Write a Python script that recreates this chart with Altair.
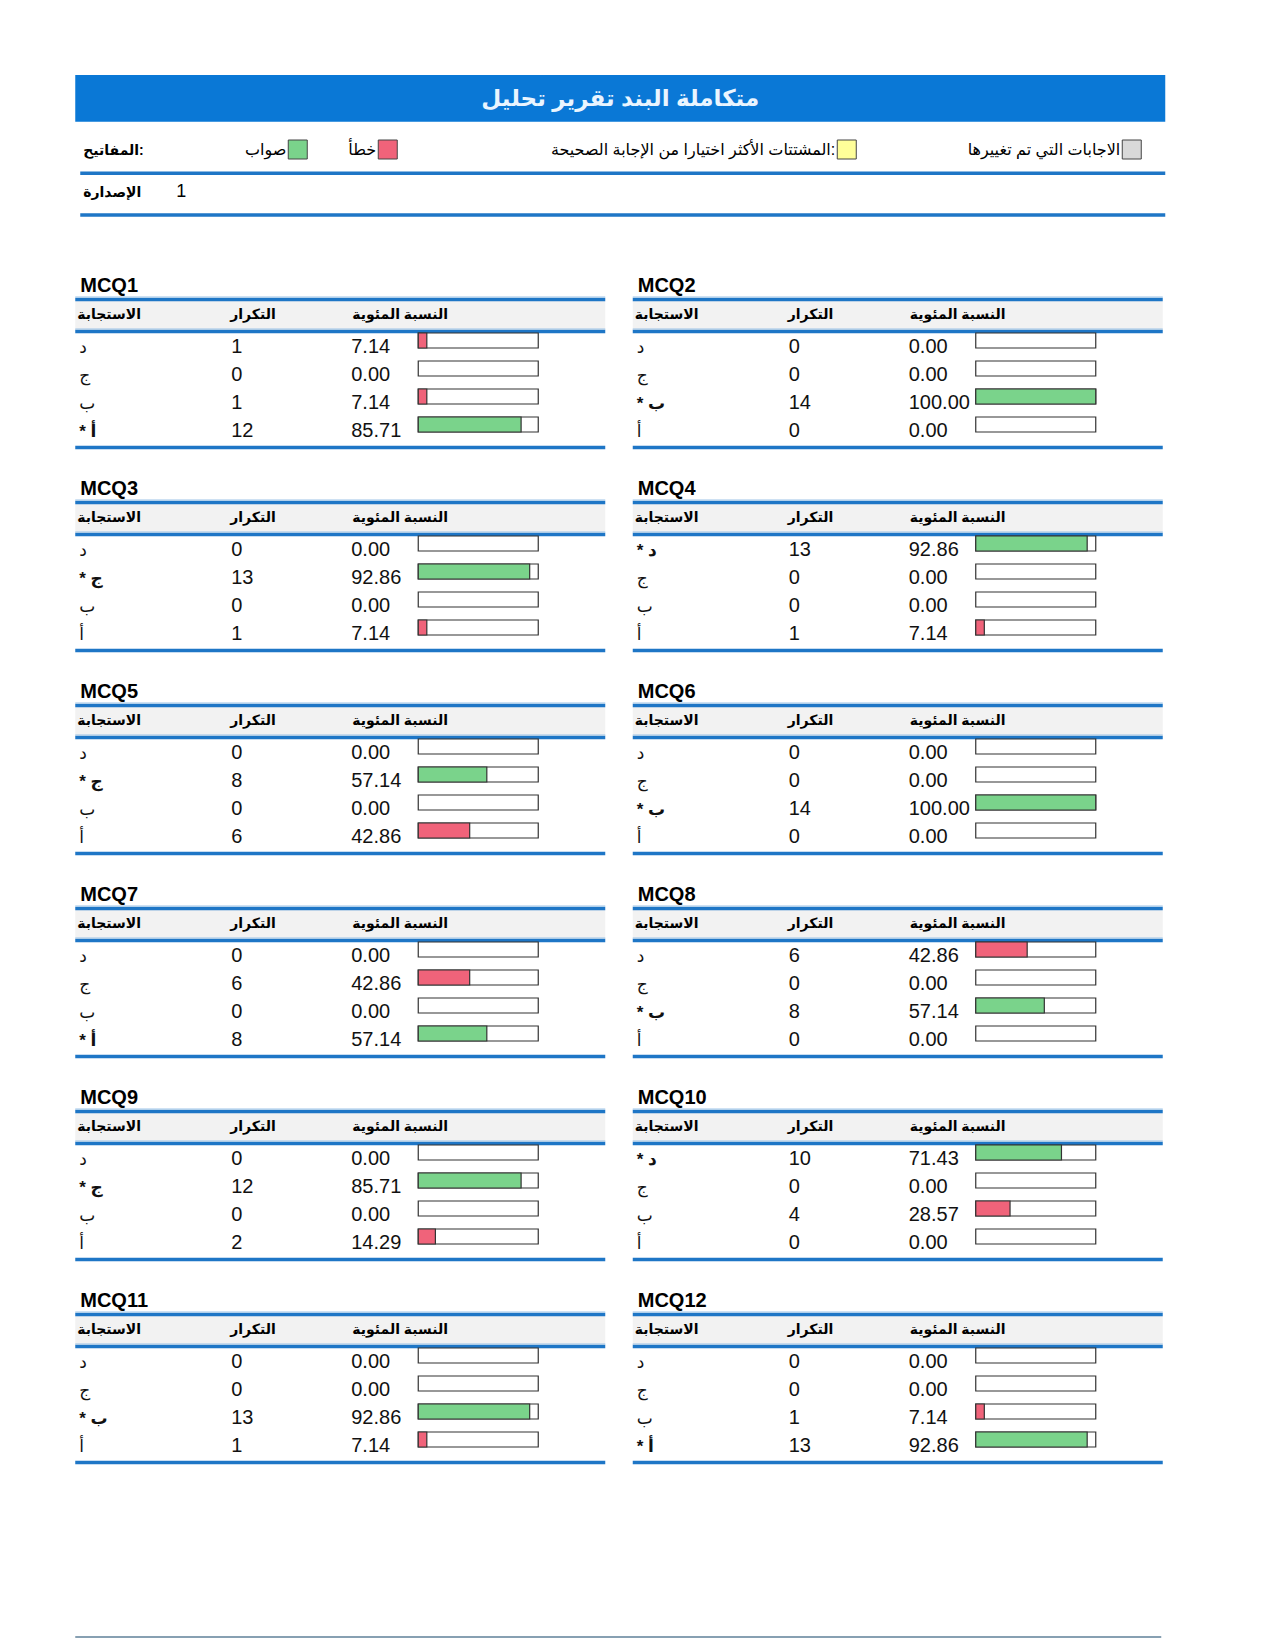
import altair as alt
import pandas as pd

# ---------------- data ----------------
TITLE = "متكاملة البند تقرير تحليل"
KEY_HEAD = "المفاتيح:"
KEY_LABELS = ["صواب", "خطأ", "المشتتات الأكثر اختيارا من الإجابة الصحيحة:", "الاجابات التي تم تغييرها"]
KEY_COLORS = ["#7AD38B", "#F0637A", "#FFFF99", "#D9D9D9"]
VERSION_LABEL = "الإصدارة"
VERSION_VALUE = "1"
COL_HEADERS = ["الاستجابة", "التكرار", "النسبة المئوية"]

QUESTIONS = ["MCQ1", "MCQ2", "MCQ3", "MCQ4", "MCQ5", "MCQ6",
             "MCQ7", "MCQ8", "MCQ9", "MCQ10", "MCQ11", "MCQ12"]
RESPONSES = ["د", "ج", "ب", "أ"]
CORRECT = ["أ", "ب", "ج", "د", "ج", "ب", "أ", "ب", "ج", "د", "ب", "أ"]
COUNTS = [
    [1, 0, 1, 12],
    [0, 0, 14, 0],
    [0, 13, 0, 1],
    [13, 0, 0, 1],
    [0, 8, 0, 6],
    [0, 0, 14, 0],
    [0, 6, 0, 8],
    [6, 0, 8, 0],
    [0, 12, 0, 2],
    [10, 0, 4, 0],
    [0, 0, 13, 1],
    [0, 0, 1, 13],
]
PERCENTS = [
    [7.14, 0.00, 7.14, 85.71],
    [0.00, 0.00, 100.00, 0.00],
    [0.00, 92.86, 0.00, 7.14],
    [92.86, 0.00, 0.00, 7.14],
    [0.00, 57.14, 0.00, 42.86],
    [0.00, 0.00, 100.00, 0.00],
    [0.00, 42.86, 0.00, 57.14],
    [42.86, 0.00, 57.14, 0.00],
    [0.00, 85.71, 0.00, 14.29],
    [71.43, 0.00, 28.57, 0.00],
    [0.00, 0.00, 92.86, 7.14],
    [0.00, 0.00, 7.14, 92.86],
]

# ---------------- styling / layout ----------------
FONT = "Liberation Sans, Arial, DejaVu Sans, sans-serif"
TITLE_BLUE = "#0A78D6"
LINE_BLUE = "#1E76C6"
HEAD_BG = "#F2F2F2"
GREEN = "#7AD38B"
RED = "#F0637A"
INK = "#111111"

PW, PH = 530, 180          # panel size
HW, HH = 1090, 197         # header block size
KEY_SQ_X = [213, 303, 762, 1047]

rows = []
for qi, q in enumerate(QUESTIONS):
    for r, resp in enumerate(RESPONSES):
        ok = resp == CORRECT[qi]
        rows.append({
            "q": q, "r": r, "resp": resp,
            "label": ("* " + resp) if ok else resp,
            "count": COUNTS[qi][r], "pct": PERCENTS[qi][r],
            "status": "correct" if ok else "wrong", "full": 100,
        })
rows = pd.DataFrame(rows)

# ---------------- question panels ----------------
one = "datum.r == 0"
yenc = alt.Y("resp:N", axis=None,
             scale=alt.Scale(type="point", domain=RESPONSES, range=[68.5, 152.5], padding=0))
xbar = alt.Scale(domain=[0, 100], range=[343, 463])


def make_panel(q):
    base = alt.Chart(rows[rows["q"] == q])
    layers = []
    layers.append(base.mark_rect(color=HEAD_BG).encode(
        x=alt.value(0), x2=alt.value(PW), y=alt.value(29), y2=alt.value(58)).transform_filter(one))
    for yy in [27.5, 59.5, 175.5]:
        layers.append(base.mark_rule(color=LINE_BLUE, strokeWidth=3.5).encode(
            x=alt.value(0), x2=alt.value(PW), y=alt.value(yy)).transform_filter(one))
    for yy in [25, 57]:
        layers.append(base.mark_rule(color="#9CC3E6", strokeWidth=1).encode(
            x=alt.value(0), x2=alt.value(PW), y=alt.value(yy)).transform_filter(one))
    layers.append(base.mark_text(align="left", baseline="alphabetic", fontSize=20,
                                 fontWeight="bold", color="#000").encode(
        x=alt.value(5), y=alt.value(20), text="q:N").transform_filter(one))
    for hx, ht in zip([2, 155, 277], COL_HEADERS):
        layers.append(base.mark_text(align="left", baseline="alphabetic", fontSize=14,
                                     fontWeight="bold", color="#000").encode(
            x=alt.value(hx), y=alt.value(47), text=alt.value(ht)).transform_filter(one))
    layers.append(base.mark_text(align="left", baseline="alphabetic", fontSize=17, dy=12.5,
                                 color=INK).encode(
        x=alt.value(4), y=yenc, text="label:N").transform_filter("datum.status == 'wrong'"))
    layers.append(base.mark_text(align="left", baseline="alphabetic", fontSize=17, dy=12.5,
                                 fontWeight="bold", color=INK).encode(
        x=alt.value(4), y=yenc, text="label:N").transform_filter("datum.status == 'correct'"))
    layers.append(base.mark_text(align="left", baseline="alphabetic", fontSize=20, dy=12.5,
                                 color=INK).encode(
        x=alt.value(156), y=yenc, text="count:Q"))
    layers.append(base.mark_text(align="left", baseline="alphabetic", fontSize=20, dy=12.5,
                                 color=INK).encode(
        x=alt.value(276), y=yenc, text=alt.Text("pct:Q", format=".2f")))
    layers.append(base.mark_bar(size=15, fill="white", stroke="#333333", strokeWidth=1.2).encode(
        x=alt.X("full:Q", scale=xbar, axis=None), y=yenc))
    layers.append(base.mark_bar(size=15, stroke="#333333", strokeWidth=1.2).encode(
        x=alt.X("pct:Q", scale=xbar, axis=None), y=yenc,
        color=alt.Color("status:N", legend=None,
                        scale=alt.Scale(domain=["correct", "wrong"], range=[GREEN, RED]))
    ).transform_filter("datum.pct > 0"))
    return alt.layer(*layers).properties(width=PW, height=PH)


grid_rows = []
for i in range(0, len(QUESTIONS), 2):
    grid_rows.append(alt.hconcat(make_panel(QUESTIONS[i]), make_panel(QUESTIONS[i + 1]),
                                 spacing=23.5))
grid = alt.vconcat(*grid_rows, spacing=23)

# ---------------- header block ----------------
one_row = pd.DataFrame({"k": [0]})
keydf = pd.DataFrame({"label": KEY_LABELS, "color": KEY_COLORS, "x": KEY_SQ_X})

h_layers = [
    alt.Chart(one_row).mark_rect(color=TITLE_BLUE).encode(
        x=alt.value(0), x2=alt.value(HW), y=alt.value(0), y2=alt.value(46.7)),
    alt.Chart(pd.DataFrame({"t": [TITLE]})).mark_text(
        fontSize=23, fontWeight="bold", color="#EAF5FF", align="center", baseline="middle").encode(
        x=alt.value(545), y=alt.value(24), text="t:N"),
    alt.Chart(pd.DataFrame({"t": [KEY_HEAD]})).mark_text(
        fontSize=14, fontWeight="bold", color="#000", align="left", baseline="alphabetic").encode(
        x=alt.value(8), y=alt.value(80), text="t:N"),
    alt.Chart(keydf).mark_rect(stroke="#444444", strokeWidth=1).transform_calculate(
        x2="datum.x + 19").encode(
        x=alt.X("x:Q", scale=None), x2="x2:Q", y=alt.value(65), y2=alt.value(84),
        color=alt.Color("color:N", scale=None)),
    alt.Chart(keydf).mark_text(fontSize=16, color="#000", align="right",
                               baseline="alphabetic").transform_calculate(
        tx="datum.x - 2").encode(
        x=alt.X("tx:Q", scale=None), y=alt.value(80), text="label:N"),
    alt.Chart(one_row).mark_rule(color=LINE_BLUE, strokeWidth=3.5).encode(
        x=alt.value(5), x2=alt.value(HW), y=alt.value(98.3)),
    alt.Chart(one_row).mark_rule(color=LINE_BLUE, strokeWidth=3.5).encode(
        x=alt.value(5), x2=alt.value(HW), y=alt.value(140)),
    alt.Chart(pd.DataFrame({"t": [VERSION_LABEL]})).mark_text(
        fontSize=14, fontWeight="bold", color="#000", align="left", baseline="alphabetic").encode(
        x=alt.value(8), y=alt.value(122), text="t:N"),
    alt.Chart(pd.DataFrame({"t": [VERSION_VALUE]})).mark_text(
        fontSize=18, color="#000", align="left", baseline="alphabetic").encode(
        x=alt.value(101), y=alt.value(122), text="t:N"),
]
header = alt.layer(*h_layers).properties(width=HW, height=HH)

footer = alt.Chart(one_row).mark_rule(color="#5F8199", strokeWidth=1.5).encode(
    x=alt.value(0), x2=alt.value(1086), y=alt.value(170)).properties(width=HW, height=172)

chart = alt.vconcat(header, grid, footer, spacing=0).properties(
    padding={"left": 65.25, "top": 67, "right": 0, "bottom": 0}
).configure(font=FONT).configure_view(stroke=None)

chart.save("out.html", embed_options={"renderer": "svg", "actions": False})
